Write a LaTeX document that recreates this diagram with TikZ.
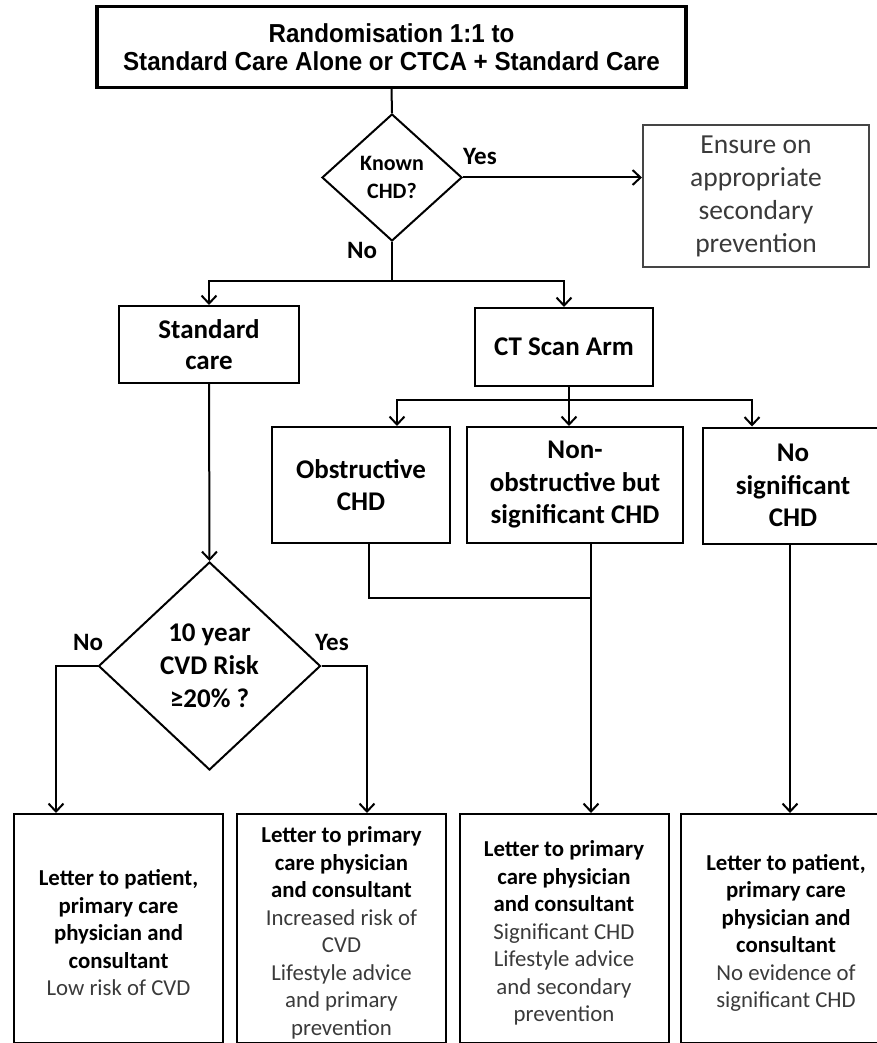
\documentclass[tikz,border=0pt]{standalone}
\usepackage{fontspec}
\setmainfont{Carlito}
\newfontfamily\arialfont[FakeStretch=0.93]{Liberation Sans}
\usetikzlibrary{shapes.geometric,arrows.meta}
\definecolor{txtgray}{HTML}{3A3A3A}
\definecolor{linegray}{HTML}{454545}
\newcommand\regtxt{\mdseries\color{txtgray}}
\begin{document}
\begin{tikzpicture}[x=1pt,y=-1pt,
  line/.style={line width=2pt},
  arr/.style={line width=2pt,-{Straight Barb[length=8pt,width=15pt]}},
  box/.style={draw,line width=2pt,rectangle,inner sep=0pt,align=center,font=\bfseries\fontsize{27}{32.5}\selectfont},
  dia/.style={draw,line width=2pt,diamond,inner sep=0pt,align=center},
  outbox/.style={draw,line width=2pt,rectangle,inner sep=0pt,align=center,anchor=north,minimum width=209pt,minimum height=229pt,font=\bfseries\fontsize{22.8}{27.5}\selectfont},
  lab/.style={font=\bfseries\fontsize{25}{30}\selectfont,inner sep=0pt},
]
\useasboundingbox (0,0) rectangle (877,1043);

% top box
\node[draw,line width=3.2pt,inner sep=0pt,minimum width=589pt,minimum height=81pt,align=center,
      font=\arialfont\bfseries\fontsize{26}{28.5}\selectfont] (top) at (391.5,47)
      {Randomisation 1:1 to\\Standard Care Alone or CTCA + Standard Care};

% known CHD diamond
\node[dia,minimum width=140pt,minimum height=127pt,font=\bfseries\fontsize{22}{28}\selectfont] (known) at (392,177.5) {Known\\CHD?};

% ensure box
\node[draw=linegray,line width=2pt,rectangle,inner sep=0pt,align=center,text=txtgray,
      minimum width=226pt,minimum height=142pt,font=\fontsize{27.5}{33}\selectfont] (ensure) at (756,196)
      {Ensure on\\appropriate\\secondary\\prevention};

% arms
\node[box,minimum width=180pt,minimum height=77pt,font=\bfseries\fontsize{27}{31}\selectfont] (std) at (209,344.5) {Standard\\care};
\node[box,minimum width=178pt,minimum height=78pt] (ct) at (564,347) {CT Scan Arm};

% CT outcomes
\node[box,minimum width=178pt,minimum height=116pt] (obs) at (361,485) {Obstructive\\CHD};
\node[box,minimum width=216pt,minimum height=116pt] (nonobs) at (575,485) {Non-\\obstructive but\\significant CHD};
\node[box,minimum width=180pt,minimum height=116pt] (nosig) at (793,485.5) {No\\significant\\CHD};

% risk diamond
\node[dia,minimum width=222pt,minimum height=208pt,font=\bfseries\fontsize{27}{33}\selectfont] (risk) at (209.5,666) {10 year\\CVD Risk\\≥20\% ?};

% output boxes
\node[outbox] (out1) at (118.5,813) {\rule{0pt}{25pt}Letter to patient,\\primary care\\physician and\\consultant\\\regtxt Low risk of CVD};
\node[outbox] (out2) at (341.5,813) {\rule{0pt}{25pt}Letter to primary\\care physician\\and consultant\\\regtxt Increased risk of\\\regtxt CVD\\\regtxt Lifestyle advice\\\regtxt and primary\\\regtxt prevention};
\node[outbox] (out3) at (564,813) {\rule{0pt}{25pt}Letter to primary\\care physician\\and consultant\\\regtxt Significant CHD\\\regtxt Lifestyle advice\\\regtxt and secondary\\\regtxt prevention};
\node[outbox,minimum width=210pt] (out4) at (786,813) {\rule{0pt}{25pt}Letter to patient,\\primary care\\physician and\\consultant\\\regtxt No evidence of\\\regtxt significant CHD};

% labels
\node[lab] (yes1) at (480,156) {Yes};
\node[lab] (no1) at (362,250) {No};
\node[lab] (no2) at (88,642) {No};
\node[lab] (yes2) at (332,642) {Yes};

% coordinates
\coordinate (b1) at (392,281);
\coordinate (b2) at (569,400);
\coordinate (bL) at (397,400);
\coordinate (bR) at (752,400);
\coordinate (j1) at (369,598);
\coordinate (j2) at (591,598);
\coordinate (c4) at (790,543);
\coordinate (l1) at (56,666);
\coordinate (r1) at (367,666);

% connectors
\draw[line] (top.south) -- (known.north);
\draw[arr] (known.east) -- (known.east -| ensure.west);
\draw[arr] (known.south) -- (b1) -| (std.north);
\draw[arr] (b1) -| (ct.north);
\draw[arr] (ct.south -| b2) -- (b2) -- (bL) -- (bL |- obs.north);
\draw[arr] (b2) -- (bR) -- (bR |- nosig.north);
\draw[arr] (b2) -- (b2 |- nonobs.north);
\draw[line] (obs.south -| j1) -- (j1) -- (j2);
\draw[arr] (nonobs.south -| j2) -- (j2 |- out3.north);
\draw[arr] (nosig.south -| c4) -- (c4 |- out4.north);
\draw[arr] (std.south) -- (risk.north);
\draw[arr] (risk.west) -- (l1) -- (l1 |- out1.north);
\draw[arr] (risk.east) -- (r1) -- (r1 |- out2.north);
\end{tikzpicture}
\end{document}
